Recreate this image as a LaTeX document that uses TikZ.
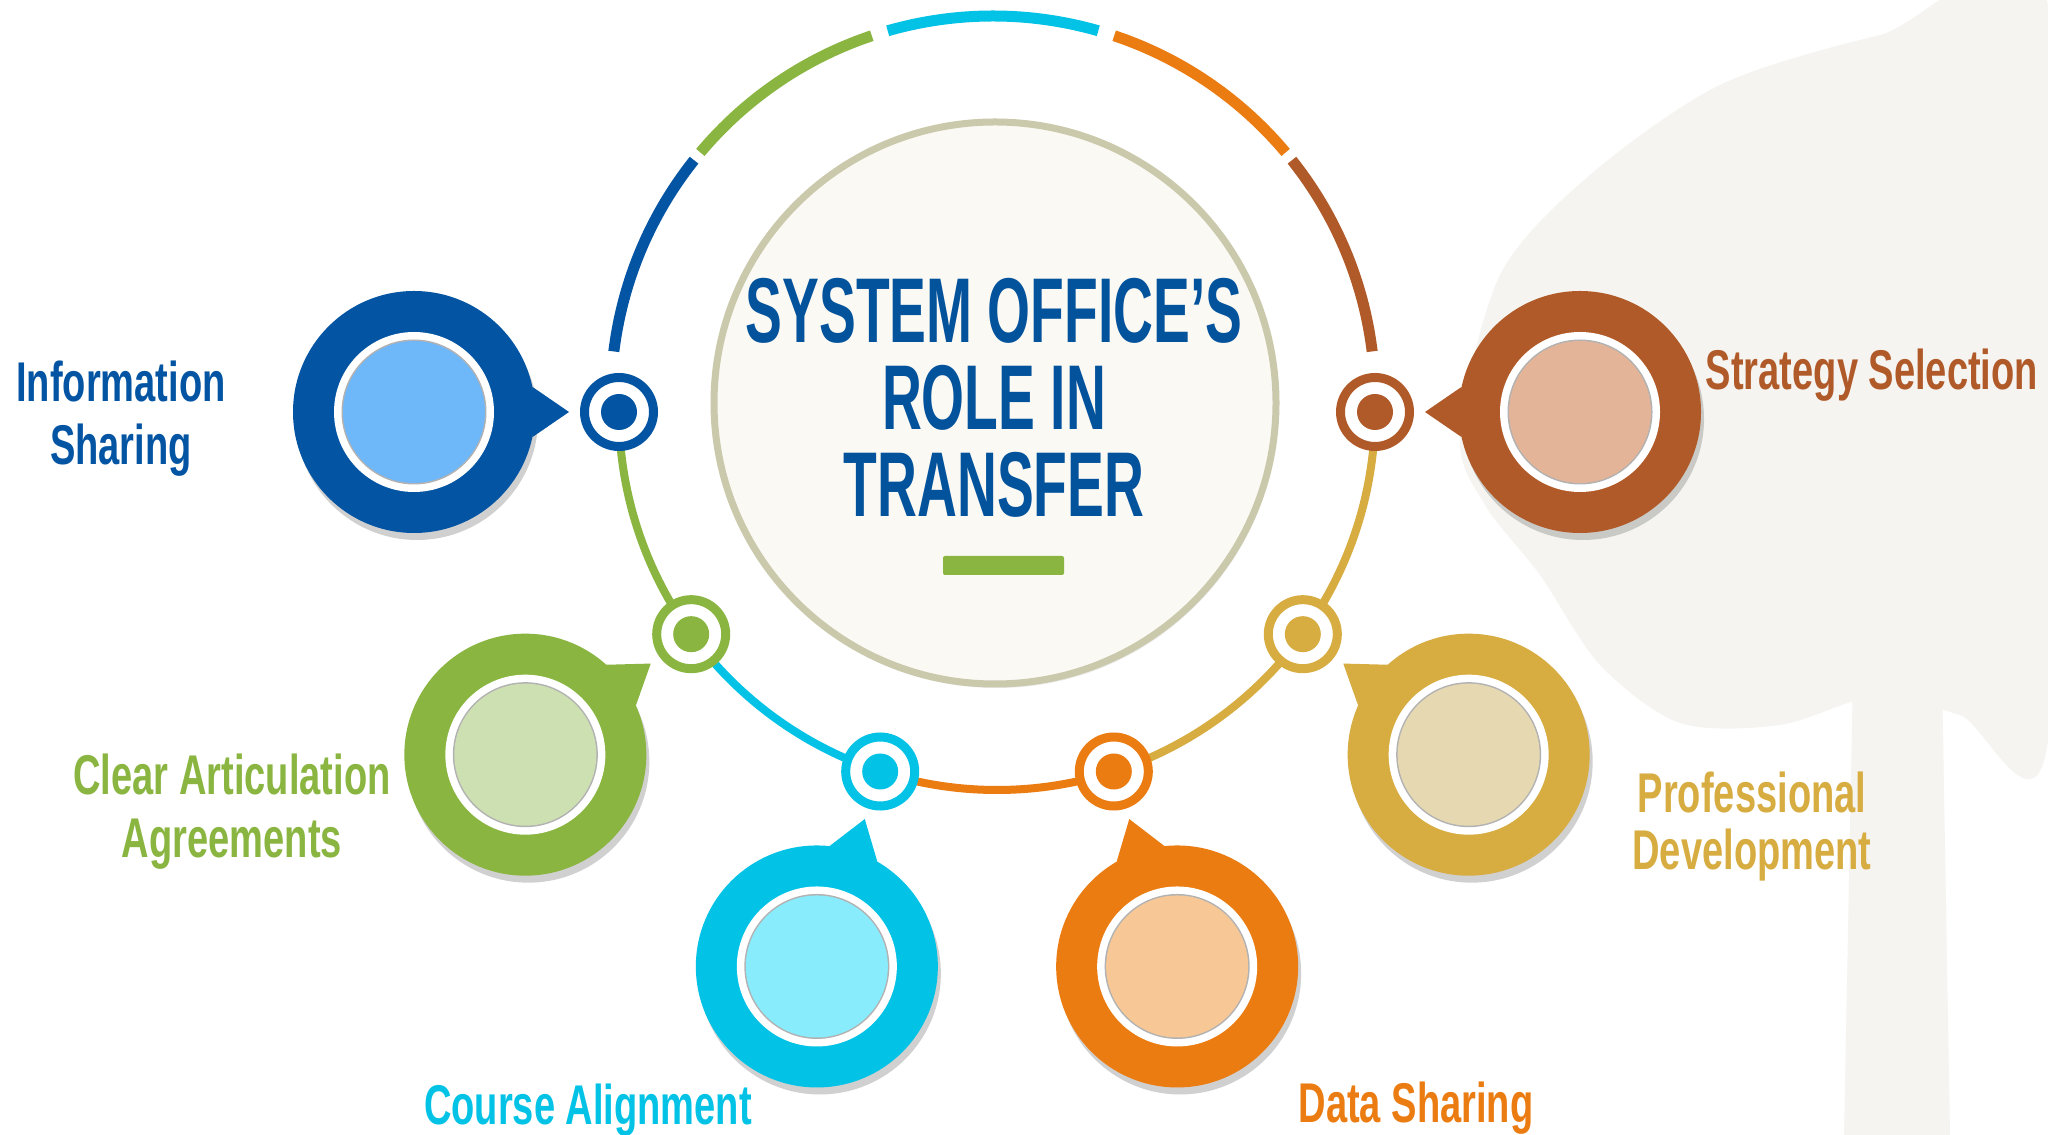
\documentclass[tikz,border=0pt]{standalone}
\usepackage{fontspec}
\newfontfamily\titlefont{Liberation Sans}[FakeStretch=0.6]
\newfontfamily\labelfont{Liberation Sans}[FakeStretch=0.68]
\usetikzlibrary{calc,backgrounds,shadows}

\definecolor{cblue}{RGB}{3,84,162}
\definecolor{lblue}{RGB}{110,184,250}
\definecolor{cgreen}{RGB}{137,181,64}
\definecolor{lgreen}{RGB}{205,224,177}
\definecolor{ccyan}{RGB}{2,195,230}
\definecolor{lcyan}{RGB}{137,236,252}
\definecolor{corange}{RGB}{235,124,17}
\definecolor{lorange}{RGB}{247,200,150}
\definecolor{cgold}{RGB}{215,172,64}
\definecolor{lgold}{RGB}{230,216,176}
\definecolor{cbrown}{RGB}{177,90,41}
\definecolor{lbrown}{RGB}{228,180,152}
\definecolor{ctitle}{RGB}{2,82,156}
\definecolor{hubfill}{RGB}{251,249,244}
\definecolor{hubrim}{RGB}{203,201,172}
\definecolor{palm}{RGB}{245,244,240}

\tikzset{
  ringnode/.style={circle, fill=white, draw=#1, line width=9pt, inner sep=0pt,
    minimum size=69pt,
    path picture={\fill[#1] (path picture bounding box.center) circle (18);}},
  bubble/.style 2 args={circle, fill=#1, inner sep=0pt, minimum size=242pt,
    drop shadow={shadow xshift=3pt, shadow yshift=-7pt, opacity=0.3, fill=black!60},
    path picture={
      \fill[white] (path picture bounding box.center) circle (80);
      \fill[black!30] (path picture bounding box.center) circle (72.5);
      \fill[#2] (path picture bounding box.center) circle (71);}},
  lbl/.style={text=#1, font=\labelfont\bfseries\fontsize{56}{63}\selectfont,
    inner sep=0pt, align=center, anchor=base},
  toparc/.style={#1, line width=11pt},
  link/.style={#1, line width=8pt}
}

\begin{document}
\begin{tikzpicture}[x=1pt, y=1pt]
  \useasboundingbox (0,0) rectangle (2048,1135);
  \begin{pgfonlayer}{background}
    \fill[white] (0,0) rectangle (2048,1135);
    % palm watermark
    \fill[palm] plot[smooth cycle] coordinates {(1460,700) (1500,860) (1590,960)
      (1720,1050) (1880,1100) (2048,1130) (2048,395) (1960,420) (1880,440)
      (1780,410) (1680,412) (1600,470) (1540,560) (1485,630)};
    \fill[palm] (1844,0) -- (1853,460) -- (1942,460) -- (1950,0) -- cycle;
  \end{pgfonlayer}

  \coordinate (ringc) at (997,723);
  \coordinate (topc) at (993,737);

  % hub
  \node[circle, fill=hubfill, draw=hubrim, line width=7pt, minimum size=562pt,
    drop shadow={shadow xshift=2pt, shadow yshift=-4pt, opacity=0.15}] (hub) at (995,732) {};
  \node[text=ctitle, align=center, anchor=base, inner sep=0pt,
    font=\titlefont\bfseries\fontsize{92}{87}\selectfont] (title) at (994,618)
    {SYSTEM OFFICE’S\\ROLE IN\\TRANSFER};
  \fill[cgreen, rounded corners=2pt] (943,560) rectangle (1064,579);

  % top arcs
  \draw[toparc=cblue] ($(topc)+(173:382)$) arc[start angle=173, end angle=141.5, radius=382];
  \draw[toparc=cgreen] ($(topc)+(140:382)$) arc[start angle=140, end angle=108.5, radius=382];
  \draw[toparc=ccyan] ($(topc)+(106:382)$) arc[start angle=106, end angle=74, radius=382];
  \draw[toparc=corange] ($(topc)+(71.5:382)$) arc[start angle=71.5, end angle=40, radius=382];
  \draw[toparc=cbrown] ($(topc)+(38.5:382)$) arc[start angle=38.5, end angle=7, radius=382];

  % 1. Information Sharing
  \node[bubble={cblue}{lblue}] (bub1) at ($(ringc)+(180:583)$) {};
  \fill[cblue] ($(bub1)+(-12:121)$) -- ($(bub1)+(0:155)$) -- ($(bub1)+(12:121)$) -- cycle;
  \node[ringnode=cblue] (ring1) at ($(ringc)+(180:378)$) {};
  \node[lbl=cblue] (lbl1) at (121,670) {Information\\Sharing};

  % 2. Clear Articulation Agreements
  \node[bubble={cgreen}{lgreen}] (bub2) at ($(ringc)+(216:583)$) {};
  \fill[cgreen] ($(bub2)+(24:121)$) -- ($(bub2)+(36:155)$) -- ($(bub2)+(48:121)$) -- cycle;
  \node[ringnode=cgreen] (ring2) at ($(ringc)+(216:378)$) {};
  \node[lbl=cgreen] (lbl2) at (232,277) {Clear Articulation\\Agreements};

  % 3. Course Alignment
  \node[bubble={ccyan}{lcyan}] (bub3) at ($(ringc)+(252:583)$) {};
  \fill[ccyan] ($(bub3)+(60:121)$) -- ($(bub3)+(72:155)$) -- ($(bub3)+(84:121)$) -- cycle;
  \node[ringnode=ccyan] (ring3) at ($(ringc)+(252:378)$) {};
  \node[lbl=ccyan] (lbl3) at (588,10) {Course Alignment};

  % 4. Data Sharing
  \node[bubble={corange}{lorange}] (bub4) at ($(ringc)+(288:583)$) {};
  \fill[corange] ($(bub4)+(96:121)$) -- ($(bub4)+(108:155)$) -- ($(bub4)+(120:121)$) -- cycle;
  \node[ringnode=corange] (ring4) at ($(ringc)+(288:378)$) {};
  \node[lbl=corange] (lbl4) at (1416,12) {Data Sharing};

  % 5. Professional Development
  \node[bubble={cgold}{lgold}] (bub5) at ($(ringc)+(324:583)$) {};
  \fill[cgold] ($(bub5)+(132:121)$) -- ($(bub5)+(144:155)$) -- ($(bub5)+(156:121)$) -- cycle;
  \node[ringnode=cgold] (ring5) at ($(ringc)+(324:378)$) {};
  \node[lbl=cgold, font=\labelfont\bfseries\fontsize{56}{57}\selectfont] (lbl5) at (1752,265)
    {Professional\\Development};

  % 6. Strategy Selection
  \node[bubble={cbrown}{lbrown}] (bub6) at ($(ringc)+(360:583)$) {};
  \fill[cbrown] ($(bub6)+(168:121)$) -- ($(bub6)+(180:155)$) -- ($(bub6)+(192:121)$) -- cycle;
  \node[ringnode=cbrown] (ring6) at ($(ringc)+(360:378)$) {};
  \node[lbl=cbrown] (lbl6) at (1872,745) {Strategy Selection};

  % links between ring nodes
  \begin{pgfonlayer}{background}
    \draw[link=cgreen] (ring1.center) arc[start angle=180, end angle=216, radius=378];
    \draw[link=ccyan] (ring2.center) arc[start angle=216, end angle=252, radius=378];
    \draw[link=corange] (ring3.center) arc[start angle=252, end angle=288, radius=378];
    \draw[link=cgold] (ring4.center) arc[start angle=288, end angle=324, radius=378];
    \draw[link=cgold] (ring5.center) arc[start angle=324, end angle=360, radius=378];
  \end{pgfonlayer}
\end{tikzpicture}
\end{document}
